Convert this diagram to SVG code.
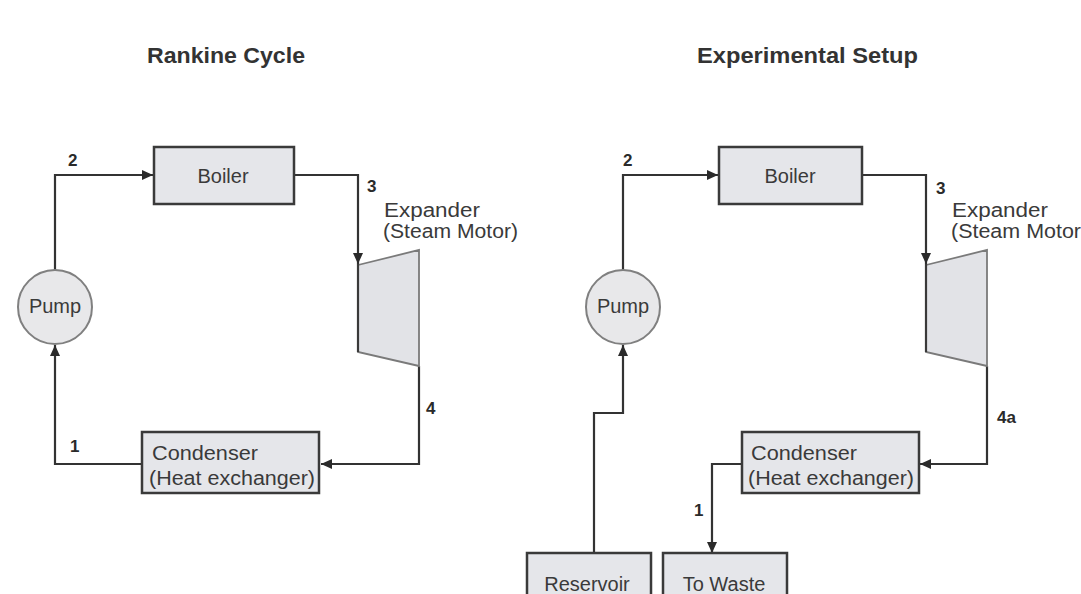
<svg xmlns="http://www.w3.org/2000/svg" width="1081" height="594" viewBox="0 0 1081 594">
<style>
.bg{fill:#ffffff}
.box{fill:#e5e6ea;stroke:#3a3a3a;stroke-width:2.5}
.pump{fill:#e8e8ea;stroke:#808080;stroke-width:2}
.exp{fill:#e2e3e7;stroke:#7a7a7a;stroke-width:1.8}
.edge{fill:none;stroke:#3a3a3a;stroke-width:2.2}
.wire{fill:none;stroke:#333333;stroke-width:2.2}
.lbl{font-family:"Liberation Sans",Arial,sans-serif;font-size:20px;fill:#3a3a3a}
.num{font-family:"Liberation Sans",Arial,sans-serif;font-size:17px;font-weight:bold;fill:#2a2a2a}
.title{font-family:"Liberation Sans",Arial,sans-serif;font-size:22px;font-weight:bold;fill:#333333}
</style>
<defs>
<marker id="arr" markerUnits="userSpaceOnUse" markerWidth="12" markerHeight="10" refX="11" refY="5" orient="auto">
<path d="M0,0 L11,5 L0,10 z" fill="#2a2a2a"/>
</marker>
</defs>
<rect class="bg" x="0" y="0" width="1081" height="594"/>

<text class="title" x="147" y="63" textLength="158" lengthAdjust="spacingAndGlyphs">Rankine Cycle</text>
<text class="title" x="697" y="63" textLength="221" lengthAdjust="spacingAndGlyphs">Experimental Setup</text>

<g id="connectors">
<!-- left -->
<path class="wire" d="M55,270 L55,175 L153,175" marker-end="url(#arr)"/>
<path class="wire" d="M294,175 L358,175 L358,264" marker-end="url(#arr)"/>
<path class="wire" d="M419,366 L419,464 L321,464" marker-end="url(#arr)"/>
<path class="wire" d="M142,464 L55,464 L55,345" marker-end="url(#arr)"/>
<!-- right -->
<path class="wire" d="M623,270 L623,175 L718,175" marker-end="url(#arr)"/>
<path class="wire" d="M862,175 L926,175 L926,264" marker-end="url(#arr)"/>
<path class="wire" d="M987,366 L987,464 L920,464" marker-end="url(#arr)"/>
<path class="wire" d="M742,464 L712,464 L712,553" marker-end="url(#arr)"/>
<path class="wire" d="M594,553 L594,413 L623,413 L623,345" marker-end="url(#arr)"/>
</g>

<g id="labels">
<text class="num" x="68" y="166">2</text>
<text class="num" x="367" y="192">3</text>
<text class="num" x="426" y="414">4</text>
<text class="num" x="70" y="452">1</text>
<text class="num" x="623" y="166">2</text>
<text class="num" x="936" y="194">3</text>
<text class="num" x="997" y="423">4a</text>
<text class="num" x="694" y="516">1</text>
</g>

<g id="pump-left">
<circle class="pump" cx="55" cy="307" r="37"/>
<text class="lbl" x="55" y="313" text-anchor="middle">Pump</text>
</g>
<g id="boiler-left">
<rect class="box" x="154" y="147" width="140" height="57"/>
<text class="lbl" x="223" y="183" text-anchor="middle">Boiler</text>
</g>
<g id="expander-left">
<polygon class="exp" points="358,265 419,250 419,366 358,352"/>
<line class="edge" x1="358" y1="264" x2="358" y2="352"/>
<text class="lbl" x="384" y="217" textLength="96" lengthAdjust="spacingAndGlyphs">Expander</text>
<text class="lbl" x="383" y="238" textLength="135" lengthAdjust="spacingAndGlyphs">(Steam Motor)</text>
</g>
<g id="condenser-left">
<rect class="box" x="142" y="432" width="177" height="61"/>
<text class="lbl" x="152" y="460" textLength="106" lengthAdjust="spacingAndGlyphs">Condenser</text>
<text class="lbl" x="149" y="485" textLength="166" lengthAdjust="spacingAndGlyphs">(Heat exchanger)</text>
</g>

<g id="pump-right">
<circle class="pump" cx="623" cy="307" r="37"/>
<text class="lbl" x="623" y="313" text-anchor="middle">Pump</text>
</g>
<g id="boiler-right">
<rect class="box" x="719" y="147" width="143" height="57"/>
<text class="lbl" x="790" y="183" text-anchor="middle">Boiler</text>
</g>
<g id="expander-right">
<polygon class="exp" points="926,265 987,250 987,366 926,352"/>
<line class="edge" x1="926" y1="264" x2="926" y2="352"/>
<text class="lbl" x="952" y="217" textLength="96" lengthAdjust="spacingAndGlyphs">Expander</text>
<text class="lbl" x="951" y="238" textLength="130" lengthAdjust="spacingAndGlyphs">(Steam Motor</text>
</g>
<g id="condenser-right">
<rect class="box" x="742" y="432" width="177" height="61"/>
<text class="lbl" x="751" y="460" textLength="106" lengthAdjust="spacingAndGlyphs">Condenser</text>
<text class="lbl" x="748" y="485" textLength="166" lengthAdjust="spacingAndGlyphs">(Heat exchanger)</text>
</g>
<g id="reservoir">
<rect class="box" x="527" y="553" width="124" height="50"/>
<text class="lbl" x="587" y="591" text-anchor="middle">Reservoir</text>
</g>
<g id="to-waste">
<rect class="box" x="663" y="553" width="124" height="50"/>
<text class="lbl" x="724" y="591" text-anchor="middle">To Waste</text>
</g>
</svg>
